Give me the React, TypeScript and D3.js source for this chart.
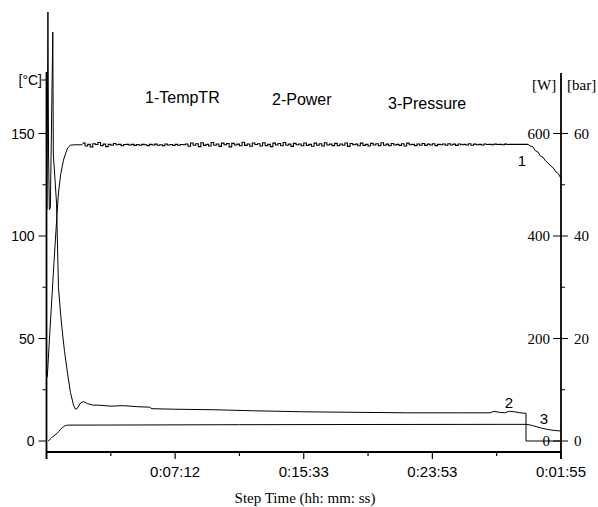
import React from "react";
import * as d3 from "d3";

// ---- data (x in step units 0..400, one major tick per 100) ----
const xTickValues = [0, 100, 200, 300, 400];
const xTickLabels = ["", "0:07:12", "0:15:33", "0:23:53", "0:01:55"];
const xMinorTicks = [50, 150, 250, 350];

const leftTicks = [0, 50, 100, 150];
const leftMinor = [25, 75, 125];
const wattTicks = [0, 200, 400, 600];
const wattMinor = [100, 300, 500];
const barTicks = [0, 20, 40, 60];

const seriesNames = ["1-TempTR", "2-Power", "3-Pressure"];

// Temperature [°C]
const tempStart: [number, number][] = [
  [0.6, 31], [2.5, 52], [4.4, 72], [5.8, 87], [7, 99], [8.2, 111], [9.3, 121],
  [11, 130], [13.2, 137], [15, 140.5], [16.5, 143], [18.6, 144.3], [22, 144.5], [28, 144.5],
];
const tempPlateauStartX = 28;
const tempPlateauStepX = 2;
const tempPlateau = [
  145.3, 143.9, 144.7, 143.5, 145.0, 144.6, 145.6, 144.1, 144.8, 143.6,
  144.7, 144.3, 145.1, 144.5, 144.7, 144.0, 144.6, 144.7, 144.4, 144.7,
  144.2, 144.6, 144.3, 144.7, 144.5, 144.1, 144.7, 144.4, 144.8, 144.3,
  144.5, 144.1, 144.9, 144.4, 144.6, 144.2, 144.7, 144.3, 144.6, 144.5,
  144.9, 143.8, 145.4, 144.3, 145.0, 143.6, 145.5, 144.2, 144.7, 143.9,
  145.6, 144.3, 144.9, 143.7, 145.3, 144.5, 145.1, 143.5, 145.2, 144.4,
  144.8, 144.0, 145.7, 144.2, 144.9, 143.8, 145.4, 144.6, 145.0, 143.9,
  145.5, 144.1, 144.7, 143.6, 145.3, 144.4, 145.1, 144.0, 145.6, 144.3,
  144.8, 143.7, 145.2, 144.5, 144.9, 144.0, 145.4, 144.2, 144.7, 143.8,
  145.3, 144.3, 145.0, 143.9, 145.5, 144.4, 144.8, 144.1, 145.2, 144.0,
  144.9, 144.3, 145.4, 143.7, 145.1, 144.5, 144.8, 144.0, 145.3, 144.2,
  144.7, 143.9, 145.2, 144.4, 145.0, 144.1, 145.5, 144.3, 144.8, 144.0,
  145.1, 144.4, 144.7, 144.2, 145.0, 143.9, 145.3, 144.5, 144.7, 144.1,
  144.9, 144.3, 145.1, 144.2, 144.8, 144.4, 145.0, 144.1, 144.7, 144.5,
  144.9, 144.3, 145.0, 144.4, 144.8, 144.2, 144.9, 144.5, 144.7, 144.4,
  145.0, 144.3, 144.8, 144.5, 144.7, 144.4, 144.9, 144.6, 144.7, 144.5,
  144.8, 144.6, 144.7, 144.5, 144.8, 144.6, 144.7, 144.7, 144.7, 144.7,
  144.7, 144.7, 144.7,
];
const tempEnd: [number, number][] = [
  [374.4, 144.7], [376, 143.9], [378, 143.6], [380, 141.6], [382, 141.0], [384, 139.0],
  [386, 138.4], [388, 136.6], [390, 135.6], [392, 134.1], [394, 133.2], [396, 131.3],
  [398, 130.4], [400, 128],
];

// Power [W]
const power: [number, number][] = [
  [0.4, 451], [1.1, 837], [1.6, 560], [2.2, 451], [3.0, 455], [4.9, 798], [5.3, 560],
  [7.8, 464], [9.3, 300], [10.9, 250], [12.4, 211], [14, 175], [16.3, 133], [18.6, 95],
  [21, 70], [22.5, 62], [24, 64], [26.4, 74], [28.7, 77], [31.8, 73], [36, 70], [40, 70],
  [50, 68], [60, 69], [70, 67], [80, 66], [82, 63], [100, 62], [130, 61], [160, 59],
  [200, 57], [240, 56], [280, 55], [320, 55], [345, 55], [348, 58], [352, 56], [356, 55],
  [360, 58], [364, 57], [368, 55], [372.8, 54], [372.8, 0], [400, 0],
];

// Pressure [bar]
const pressure: [number, number][] = [
  [1.2, 0], [2, 0.15], [5, 0.9], [8.3, 1.5], [11, 2.3], [14, 2.9], [16.5, 3.1],
  [60, 3.12], [150, 3.18], [250, 3.22], [372.8, 3.25], [378, 3.0], [385, 2.5],
  [392, 2.15], [400, 1.95],
];

const SANS = "'Liberation Sans', Arial, sans-serif";
const SERIF = "'Liberation Serif', 'Times New Roman', serif";

export default function App() {
  const W = 598, H = 507;
  const x = d3.scaleLinear().domain([0, 400]).range([46.5, 561]);
  const yT = d3.scaleLinear().domain([0, 150]).range([441, 133.5]);
  const yW = d3.scaleLinear().domain([0, 600]).range([441, 133.5]);
  const yB = d3.scaleLinear().domain([0, 60]).range([441, 133.5]);

  const axisTop = 72;
  const axisBottom = 452;
  const xL = x(0), xR = x(400);

  const plateauData: [number, number][] = tempPlateau.map(
    (v, i) => [tempPlateauStartX + i * tempPlateauStepX, v] as [number, number]
  );
  const lineT = d3.line<[number, number]>().x(d => x(d[0])).y(d => yT(d[1]));
  const lineTStep = d3.line<[number, number]>().x(d => x(d[0])).y(d => yT(d[1])).curve(d3.curveStepAfter);
  const lineW = d3.line<[number, number]>().x(d => x(d[0])).y(d => yW(d[1]));
  const lineB = d3.line<[number, number]>().x(d => x(d[0])).y(d => yB(d[1])).curve(d3.curveMonotoneX);

  const axisStroke = 1.8;

  return (
    <svg width={W} height={H} style={{ position: "absolute", left: 0, top: 0, display: "block", background: "#fff" }}>
      <rect width={W} height={H} fill="#fff" />
      {/* data lines */}
      <path d={lineW(power) || ""} fill="none" stroke="#000" strokeWidth={1} />
      <path d={lineB(pressure) || ""} fill="none" stroke="#000" strokeWidth={1} />
      <path d={lineT(tempStart) || ""} fill="none" stroke="#000" strokeWidth={1} />
      <path d={lineTStep([...plateauData, tempEnd[0]]) || ""} fill="none" stroke="#000" strokeWidth={1.1} />
      <path d={lineT(tempEnd) || ""} fill="none" stroke="#000" strokeWidth={1} />

      {/* left axis */}
      <line x1={xL} x2={xL} y1={axisTop} y2={axisBottom + 7} stroke="#000" strokeWidth={axisStroke} />
      {leftTicks.map(t => (
        <g key={"lt" + t}>
          <line x1={xL - 8} x2={xL} y1={yT(t)} y2={yT(t)} stroke="#000" strokeWidth={1} />
          <text x={xL - 12} y={yT(t) + 5} textAnchor="end" fontFamily={SANS} fontSize={14}>{t}</text>
        </g>
      ))}
      {leftMinor.map(t => (
        <line key={"lm" + t} x1={xL - 4} x2={xL} y1={yT(t)} y2={yT(t)} stroke="#000" strokeWidth={1} />
      ))}
      <line x1={xL - 5} x2={xL} y1={80} y2={80} stroke="#000" strokeWidth={1} />
      <text x={42} y={85} textAnchor="end" fontFamily={SANS} fontSize={14}>[°C]</text>

      {/* right axis */}
      <line x1={xR} x2={xR} y1={73} y2={axisBottom + 7} stroke="#000" strokeWidth={axisStroke} />
      {wattTicks.map((t, i) => (
        <g key={"rt" + t}>
          <line x1={xR - 8} x2={xR + 7} y1={yW(t)} y2={yW(t)} stroke="#000" strokeWidth={1} />
          <text x={550} y={yW(t) + 5} textAnchor="end" fontFamily={SERIF} fontSize={15}>{t}</text>
          <text x={574} y={yB(barTicks[i]) + 5} textAnchor="start" fontFamily={SERIF} fontSize={15}>{barTicks[i]}</text>
        </g>
      ))}
      {wattMinor.map(t => (
        <line key={"rm" + t} x1={xR} x2={xR + 4} y1={yW(t)} y2={yW(t)} stroke="#000" strokeWidth={1} />
      ))}
      <text x={532} y={90} fontFamily={SERIF} fontSize={15}>[W]</text>
      <text x={567} y={90} fontFamily={SERIF} fontSize={15}>[bar]</text>

      {/* bottom axis */}
      <line x1={xL} x2={xR} y1={axisBottom} y2={axisBottom} stroke="#000" strokeWidth={axisStroke} />
      {xTickValues.map((t, i) => (
        <g key={"xt" + t}>
          <line x1={x(t)} x2={x(t)} y1={axisBottom} y2={axisBottom + 7} stroke="#000" strokeWidth={1.2} />
          <text x={x(t)} y={477} textAnchor="middle" fontFamily={SANS} fontSize={15}>{xTickLabels[i]}</text>
        </g>
      ))}
      {xMinorTicks.map(t => (
        <line key={"xm" + t} x1={x(t)} x2={x(t)} y1={axisBottom} y2={axisBottom + 4} stroke="#000" strokeWidth={1.2} />
      ))}
      <text x={305} y={503} textAnchor="middle" fontFamily={SERIF} fontSize={15}>Step Time (hh: mm: ss)</text>

      {/* series titles */}
      <text x={145} y={103} fontFamily={SANS} fontSize={16}>{seriesNames[0]}</text>
      <text x={272} y={105} fontFamily={SANS} fontSize={16}>{seriesNames[1]}</text>
      <text x={388} y={109} fontFamily={SANS} fontSize={16}>{seriesNames[2]}</text>

      {/* curve numbers */}
      <text x={522} y={166} textAnchor="middle" fontFamily={SANS} fontSize={15}>1</text>
      <text x={509} y={408} textAnchor="middle" fontFamily={SANS} fontSize={15}>2</text>
      <text x={544} y={424} textAnchor="middle" fontFamily={SANS} fontSize={15}>3</text>
    </svg>
  );
}
